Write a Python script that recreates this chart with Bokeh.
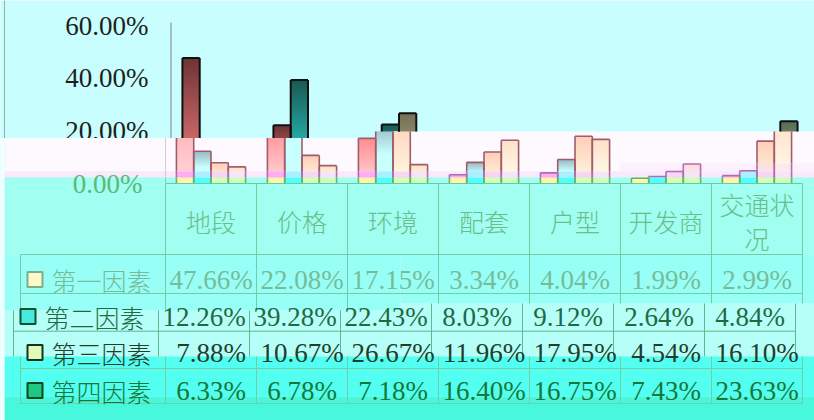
import numpy as np
from bokeh.plotting import figure
from bokeh.models import Range1d
from bokeh.core.properties import value
from bokeh.embed import file_html
from bokeh.resources import INLINE

# ---- data -------------------------------------------------------------
categories = ["地段", "价格", "环境", "配套", "户型", "开发商", "交通状况"]
series_names = ["第一因素", "第二因素", "第三因素", "第四因素"]
factor1 = [47.66, 22.08, 17.15, 3.34, 4.04, 1.99, 2.99]
factor2 = [12.26, 39.28, 22.43, 8.03, 9.12, 2.64, 4.84]
factor3 = [7.88, 10.67, 26.67, 11.96, 17.95, 4.54, 16.10]
factor4 = [6.33, 6.78, 7.18, 16.40, 16.75, 7.43, 23.63]
series_values = [factor1, factor2, factor3, factor4]
y_ticks = [0, 20, 40, 60]
y_tick_labels = ["0.00%", "20.00%", "40.00%", "60.00%"]

# ---- geometry ---------------------------------------------------------
W, H = 814, 420
PLOT_LEFT = 165        # pixel column where the first category starts
CAT_W = 91             # pixels per category
ZERO_Y = 183           # pixel row of the 0 % baseline
PX_PER_PCT = 2.633     # pixels per percentage point
BW = 0.19              # bar width in category units
SHIFT = 6 / CAT_W      # the upper strip of the chart sits a little to the right

x_start = -PLOT_LEFT / CAT_W
x_end = (W - PLOT_LEFT) / CAT_W
y_start = -(H - ZERO_Y) / PX_PER_PCT
y_end = ZERO_Y / PX_PER_PCT

p = figure(width=W, height=H, x_range=Range1d(x_start, x_end),
           y_range=Range1d(y_start, y_end), output_backend="svg",
           toolbar_location=None, x_axis_location=None, y_axis_location=None,
           min_border=0)
p.extra_x_ranges = {"px": Range1d(0, W)}
p.extra_y_ranges = {"py": Range1d(H, 0)}
p.grid.visible = False
p.outline_line_color = None
TOP_BG = "#c8fffe"
p.background_fill_color = TOP_BG
p.border_fill_color = TOP_BG

LATIN = value("Liberation Serif, Noto Sans CJK SC Light, Noto Sans CJK SC")
CJK = value("Noto Sans CJK SC Light, Noto Sans CJK SC")


def hexc(c):
    return "#%02x%02x%02x" % tuple(int(round(min(255, max(0, v)))) for v in c)


def mix(c1, c0, t):
    t = min(1.0, max(0.0, t))
    return hexc([a * t + b * (1 - t) for a, b in zip(c1, c0)])


def px_quads(rects):
    l, r, t, b, c = zip(*rects)
    p.quad(left=list(l), right=list(r), top=list(t), bottom=list(b),
           fill_color=list(c), line_color=None, x_range_name="px", y_range_name="py")


def px_lines(segs, color, width=1.0):
    xa, ya, xb, yb = zip(*segs)
    p.segment(x0=list(xa), y0=list(ya), x1=list(xb), y1=list(yb), line_color=color,
              line_width=width, x_range_name="px", y_range_name="py")


# ---- upper y tick labels (their lower edge disappears under the band) --
upper = [i for i, t in enumerate(y_ticks) if t > 0]
p.text(x=[148] * len(upper), y=[y_ticks[i] for i in upper],
       text=[y_tick_labels[i] for i in upper], x_range_name="px",
       text_font=LATIN, text_font_size="27px", text_align="right",
       text_baseline="middle", text_color="#1e1e1e")

# ---- background stripes -----------------------------------------------
px_quads([
    (4, 377, 137.5, 171, "#fdf9ff"), (377, W, 131, 171, "#fdf9ff"),
    (620, W, 163, 171, "#fcf0fc"),
    (4, W, 171, 177, "#fce8fb"),
    (4, W, 177, 254, "#a0fff0"),
    (4, 400, 254, 310, "#98fff6"), (400, W, 254, 303, "#98fff6"),
    (4, 400, 310, 356, "#b6fff8"), (400, W, 303, 356, "#b6fff8"),
    (4, W, 356, 396, "#52fff0"),
    (4, W, 396, H, "#48f8dc"),
    (0, 4, 137.5, H, "#f2ffff"),
])

# axis lines and chart-area edge
px_lines([(4, 0, 4, 137.5)], "#a0aaaa", 1)
px_lines([(170.5, 22, 170.5, 137.5)], "#808080", 1)
px_lines([(165, 137.5, 165, 177)], "#d8cad8", 1)

# ---- bars -------------------------------------------------------------
TOP = [((110, 52, 54), (255, 130, 130)), ((25, 88, 84), (45, 230, 225)),
       ((118, 112, 84), (190, 185, 150)), ((88, 108, 85), (170, 190, 165))]
WHITE = [((255, 140, 142), (255, 215, 220)), ((150, 185, 195), (200, 255, 255)),
         ((255, 205, 185), (255, 250, 225)), ((255, 225, 200), (255, 253, 240))]
PINK = [(255, 172, 242), (170, 240, 255), (246, 214, 242), (248, 228, 248)]
LOW = [(255, 245, 170), (80, 255, 255), (212, 255, 182), (205, 255, 188)]
LILAC = (250, 212, 250)

OUT = {"top": ("#101010", 2.0), "white": ("#a05c6a", 1.6), "lilac": ("#b06cb0", 1.6),
       "pink": ("#b06cb0", 1.6), "low": ("#62b470", 1.6)}

V_LOW = (ZERO_Y - 177) / PX_PER_PCT
V_PINK = (ZERO_Y - 171) / PX_PER_PCT
V_LILAC = (ZERO_Y - 163) / PX_PER_PCT
V_TOP_L = (ZERO_Y - 137.5) / PX_PER_PCT
V_TOP_R = (ZERO_Y - 131) / PX_PER_PCT


def fill_for(band, k, t):
    if band == "top":
        return mix(TOP[k][0], TOP[k][1], t)
    if band in ("white", "lilac"):
        tt = (t - 0.5) / 0.5 if k == 1 else t
        base = mix(WHITE[k][0], WHITE[k][1], tt)
        if band == "lilac":
            rgb = [int(base[i:i + 2], 16) for i in (1, 3, 5)]
            return mix(LILAC, rgb, 0.4)
        return base
    if band == "pink":
        return hexc(PINK[k])
    return hexc(LOW[k])


slices = {"x": [], "bottom": [], "top": [], "color": []}
outlines = {b: [] for b in OUT}
STEP = 0.6

for k, vals in enumerate(series_values):
    for i, v in enumerate(vals):
        xc = i + 0.5 + (k - 1.5) * BW
        pxc = PLOT_LEFT + CAT_W * xc
        right_side = pxc >= 377
        v_top = V_TOP_R if right_side else V_TOP_L
        bands = [("low", 0, V_LOW), ("pink", V_LOW, V_PINK)]
        if pxc > 620:
            bands += [("lilac", V_PINK, V_LILAC), ("white", V_LILAC, v_top)]
        else:
            bands += [("white", V_PINK, v_top)]
        bands += [("top", v_top, 1e9)]
        for band, b0, b1 in bands:
            lo, hi = b0, min(v, b1)
            if hi <= lo:
                continue
            x = xc + (SHIFT if band == "top" else 0)
            n = max(1, int(np.ceil((hi - lo) / STEP)))
            edges = np.linspace(lo, hi, n + 1)
            # gradient slices, each one overlapping the next to hide seams
            for j in range(n):
                mid = 0.5 * (edges[j] + edges[j + 1])
                slices["x"].append(x)
                slices["bottom"].append(edges[j])
                slices["top"].append(min(hi, edges[j + 1] + 0.6))
                slices["color"].append(fill_for(band, k, mid / v))
            outlines[band].append((x - BW / 2, lo, x - BW / 2, hi))
            outlines[band].append((x + BW / 2, lo, x + BW / 2, hi))
            if hi == v:
                outlines[band].append((x - BW / 2, hi, x + BW / 2, hi))

p.vbar(x=slices["x"], width=BW, bottom=slices["bottom"], top=slices["top"],
       fill_color=slices["color"], line_color=None)
for band, segs in outlines.items():
    if segs:
        xa, ya, xb, yb = zip(*segs)
        p.segment(x0=list(xa), y0=list(ya), x1=list(xb), y1=list(yb),
                  line_color=OUT[band][0], line_width=OUT[band][1])

# baseline and the zero label
px_lines([(PLOT_LEFT, ZERO_Y, 802, ZERO_Y)], "#6ec8a0", 1.2)
px_lines([(165, 177, 165, 183)], "#7cd0a8", 1)
p.text(x=[142], y=[y_ticks[0]], text=[y_tick_labels[0]], x_range_name="px",
       text_font=LATIN, text_font_size="27px", text_align="right",
       text_baseline="middle", text_color="#5cb878")

# ---- data table -------------------------------------------------------
GRID = "#74cca4"
ROW_SHIFT = -7  # middle block of the table is offset to the left
col_edges = [PLOT_LEFT + CAT_W * j for j in range(len(categories) + 1)]

segs = []
for xe in col_edges:
    segs += [(xe, ZERO_Y, xe, 310 if xe < 400 else 303), (xe, 356, xe, 403)]
segs += [(20, 254, 20, 310), (20, 356, 20, 403)]
for ye in (254, 293, 368, 403):
    segs.append((20, ye, 802, ye))
px_lines(segs, GRID, 1)

shifted = []
for xe in [20] + col_edges:
    shifted.append((xe + ROW_SHIFT, 310 if xe < 400 else 303, xe + ROW_SHIFT, 356))
shifted.append((20 + ROW_SHIFT, 330.7, 802 + ROW_SHIFT, 330.7))
px_lines(shifted, "#5cb88e", 1)

# category header
header = [c if len(c) <= 3 else c[:3] + "\n" + c[3:] for c in categories]
p.text(x=[i + 0.5 for i in range(len(categories))], y=[220.5] * len(categories),
       text=header, y_range_name="py", text_font=CJK, text_font_size="25px",
       text_align="center", text_baseline="middle", text_color="#6cbc8c",
       text_line_height=0.97)

row_y = [279, 316, 352, 390]
row_dx = [0, ROW_SHIFT, 0, 0]
row_color = ["#76bc98", "#1e6a44", "#1d3f2c", "#147838"]
key_fill = ["#fff8cd", "#46ebe0", "#e2fab9", "#1ec882"]
key_line = ["#78b087", "#10502f", "#14321e", "#0a461e"]

for r, name in enumerate(series_names):
    dx = row_dx[r]
    kx0, kx1 = 27 + dx, 42 + dx
    ky0 = row_y[r] - 7.5
    p.quad(left=[kx0], right=[kx1], top=[ky0], bottom=[ky0 + 15],
           fill_color=key_fill[r], line_color=key_line[r], line_width=2,
           x_range_name="px", y_range_name="py")
    p.text(x=[101 + dx], y=[row_y[r]], text=[name], x_range_name="px",
           y_range_name="py", text_font=CJK, text_font_size="25px",
           text_align="center", text_baseline="middle", text_color=row_color[r])
    vals = series_values[r]
    p.text(x=[i + 0.5 + dx / CAT_W for i in range(len(vals))], y=[row_y[r]] * len(vals),
           text=[f"{v:.2f}%" for v in vals], y_range_name="py", text_font=LATIN,
           text_font_size="27px", text_align="center", text_baseline="middle",
           text_color=row_color[r])

open("out.html", "w").write(file_html(p, INLINE))
